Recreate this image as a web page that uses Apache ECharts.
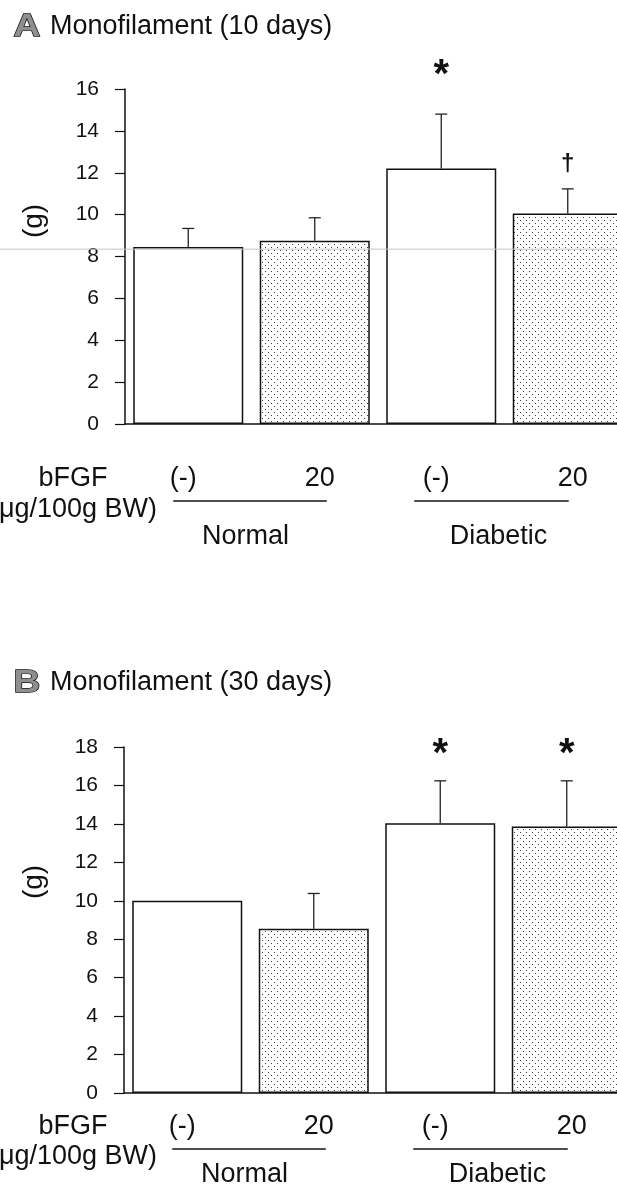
<!DOCTYPE html>
<html><head><meta charset="utf-8">
<script src="https://cdn.jsdelivr.net/npm/echarts@6/dist/echarts.min.js"></script>
<style>html,body{margin:0;padding:0;background:#fff;overflow:hidden}#c{width:650px;height:1187px}</style>
</head><body><div id="c"></div>
<script>
// ---- data ----
const categories = ['Normal (-)', 'Normal 20', 'Diabetic (-)', 'Diabetic 20'];
const doseLabels = ['(-)', '20', '(-)', '20'];
const groupLabels = ['Normal', 'Diabetic'];
const fillTypes = ['plain', 'dots', 'plain', 'dots'];
const meansA = [8.45, 8.75, 12.2, 10.05];
const sdA = [0.89, 1.1, 2.6, 1.18];
const sigA = ['', '', '*', '†'];
const meansB = [10.0, 8.55, 14.03, 13.86];
const sdB = [0, 1.83, 2.21, 2.38];
const sigB = ['', '', '*', '*'];
const titleA = 'Monofilament (10 days)';
const titleB = 'Monofilament (30 days)';
const yMaxA = 16, yMaxB = 18, yStep = 2;

// ---- rendering ----
const FONT = '"Liberation Sans", Arial, Helvetica, sans-serif';
function dotPattern() {
  const c = document.createElement('canvas');
  c.width = 6; c.height = 6;
  const g = c.getContext('2d');
  g.fillStyle = '#fff'; g.fillRect(0, 0, 6, 6);
  g.fillStyle = '#3a3a3a';
  g.fillRect(1, 1, 1, 1); g.fillRect(4, 4, 1, 1);
  return c;
}
const pattern = { image: dotPattern(), repeat: 'repeat' };

function barData(means) {
  return means.map((v, i) => ({
    value: v,
    itemStyle: { color: fillTypes[i] === 'dots' ? pattern : '#fff' }
  }));
}
function errRender(params, api) {
  const i = api.value(0), m = api.value(1), s = api.value(2);
  if (!s) return null;
  const p0 = api.coord([i, m]), p1 = api.coord([i, m + s]);
  const w = 6;
  return { type: 'group', children: [
    { type: 'line', shape: { x1: p0[0], y1: p0[1], x2: p1[0], y2: p1[1] }, style: { stroke: '#222', lineWidth: 1.3 } },
    { type: 'line', shape: { x1: p1[0] - w, y1: p1[1], x2: p1[0] + w, y2: p1[1] }, style: { stroke: '#222', lineWidth: 1.3 } }
  ]};
}
function sigRender(offs) {
  return function (params, api) {
    const i = api.value(0), top = api.value(1);
    const sym = api.value(2);
    const p = api.coord([i, top]);
    const isStar = sym === '*';
    return { type: 'text', x: p[0], y: p[1] + (isStar ? offs.star : offs.dagger),
      style: { text: sym, align: 'center', verticalAlign: 'middle', fill: '#111',
        font: isStar ? 'bold 40px ' + FONT : 'bold 24px ' + FONT } };
  };
}
function errData(means, sds) { return means.map((m, i) => [i, m, sds[i]]); }
function sigData(means, sds, sig) { return means.map((m, i) => [i, m + sds[i], sig[i]]); }

function yAxis(gi, max) {
  return { type: 'value', gridIndex: gi, min: 0, max: max, interval: yStep,
    axisLine: { show: true, lineStyle: { color: '#111', width: 1.5 } },
    axisTick: { show: true, length: 10, lineStyle: { color: '#111', width: 1.2 } },
    axisLabel: { margin: 26, color: '#111', fontSize: 21, fontFamily: FONT },
    splitLine: { show: false } };
}
function xAxis(gi) {
  return { type: 'category', gridIndex: gi, data: categories,
    axisLine: { show: true, lineStyle: { color: '#111', width: 1.5 } },
    axisTick: { show: false }, axisLabel: { show: false } };
}

const chart = echarts.init(document.getElementById('c'), null, { renderer: 'canvas' });
chart.setOption({
  animation: false,
  backgroundColor: '#fff',
  grid: [
    { left: 125, top: 89, width: 506, height: 335 },
    { left: 124, top: 747, width: 506, height: 346 }
  ],
  xAxis: [xAxis(0), xAxis(1)],
  yAxis: [yAxis(0, yMaxA), yAxis(1, yMaxB)],
  series: [
    { type: 'bar', xAxisIndex: 0, yAxisIndex: 0, barWidth: 110, data: barData(meansA),
      itemStyle: { borderColor: '#111', borderWidth: 1.5 } },
    { type: 'bar', xAxisIndex: 1, yAxisIndex: 1, barWidth: 110, data: barData(meansB),
      itemStyle: { borderColor: '#111', borderWidth: 1.5 } },
    { type: 'custom', xAxisIndex: 0, yAxisIndex: 0, renderItem: errRender, data: errData(meansA, sdA), z: 5 },
    { type: 'custom', xAxisIndex: 1, yAxisIndex: 1, renderItem: errRender, data: errData(meansB, sdB), z: 5 },
    { type: 'custom', xAxisIndex: 0, yAxisIndex: 0, renderItem: sigRender({ star: -38, dagger: -24 }), data: sigData(meansA, sdA, sigA), z: 6 },
    { type: 'custom', xAxisIndex: 1, yAxisIndex: 1, renderItem: sigRender({ star: -26, dagger: -24 }), data: sigData(meansB, sdB, sigB), z: 6 }
  ]
});

// ---- text annotations (layout) ----
const lineOffsets = [[-15, 12], [-27, 1]];
function panelGraphics(gi, title, letter, titleY, gY, off) {
  const els = [];
  const axisY = chart.convertToPixel({ yAxisIndex: gi }, 0);
  const cx = i => chart.convertToPixel({ xAxisIndex: gi }, i);
  els.push({ type: 'text', x: 27, y: titleY, scaleX: 1.2,
    style: { text: letter, align: 'center', verticalAlign: 'middle', font: 'bold 31px ' + FONT,
      fill: '#8f8f8f', stroke: '#111', lineWidth: 1.3 } });
  els.push({ type: 'text', x: 50, y: titleY, style: { text: title, verticalAlign: 'middle', font: '27px ' + FONT, fill: '#111' } });
  els.push({ type: 'text', x: 34, y: gY, rotation: Math.PI / 2,
    style: { text: '(g)', align: 'center', verticalAlign: 'middle', font: '28px ' + FONT, fill: '#111' } });
  els.push({ type: 'text', x: 73, y: axisY + off.dose, style: { text: 'bFGF', align: 'center', verticalAlign: 'middle', font: '27px ' + FONT, fill: '#111' } });
  els.push({ type: 'text', x: 157, y: axisY + off.unit, style: { text: '(\u03bcg/100g BW)', align: 'right', verticalAlign: 'middle', font: '27px ' + FONT, fill: '#111' } });
  doseLabels.forEach((t, i) => {
    els.push({ type: 'text', x: cx(i) + (t === '(-)' ? -5 : 5), y: axisY + off.dose,
      style: { text: t, align: 'center', verticalAlign: 'middle', font: '27px ' + FONT, fill: '#111' } });
  });
  groupLabels.forEach((t, g) => {
    const a = cx(2 * g), b = cx(2 * g + 1);
    const lo = lineOffsets[g];
    els.push({ type: 'line', shape: { x1: a + lo[0], y1: axisY + off.line, x2: b + lo[1], y2: axisY + off.line }, style: { stroke: '#111', lineWidth: 1.5 } });
    els.push({ type: 'text', x: (a + b) / 2 - 6, y: axisY + off.group, style: { text: t, align: 'center', verticalAlign: 'middle', font: '27px ' + FONT, fill: '#111' } });
  });
  return els;
}
const artifactY = chart.convertToPixel({ yAxisIndex: 0 }, 8.35);
chart.setOption({ graphic: { elements: [].concat(
  panelGraphics(0, titleA, 'A', 27, 221, { dose: 55, line: 77, unit: 86, group: 113 }),
  panelGraphics(1, titleB, 'B', 683, 882, { dose: 34, line: 56, unit: 64, group: 82 }),
  [{ type: 'line', z: 100, shape: { x1: 0, y1: artifactY, x2: 617, y2: artifactY }, style: { stroke: '#c4c4c4', lineWidth: 1 } }]
) } });
</script>
</body></html>
